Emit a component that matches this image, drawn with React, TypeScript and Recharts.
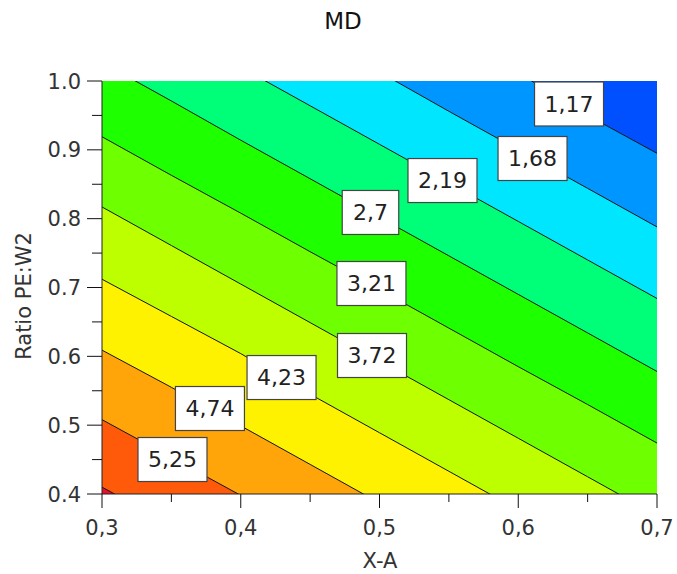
import { ComposedChart, Area, Line, Scatter, XAxis, YAxis } from "recharts";

// grid of X-A values where each contour line was read
const X_GRID = [0.3, 0.35, 0.4, 0.45, 0.5, 0.55, 0.6, 0.65, 0.7];

// contour lines: Ratio PE:W2 value along X_GRID for each MD level
const C_117 = [1.349, 1.293, 1.237, 1.18, 1.124, 1.068, 1.012, 0.95, 0.895];
const C_168 = [1.237, 1.181, 1.125, 1.069, 1.013, 0.956, 0.9, 0.844, 0.788];
const C_219 = [1.132, 1.076, 1.02, 0.964, 0.908, 0.852, 0.796, 0.74, 0.684];
const C_270 = [1.027, 0.971, 0.914, 0.858, 0.802, 0.746, 0.69, 0.634, 0.578];
const C_321 = [0.919, 0.863, 0.808, 0.752, 0.697, 0.641, 0.585, 0.53, 0.474];
const C_372 = [0.817, 0.761, 0.705, 0.649, 0.593, 0.537, 0.481, 0.425, 0.369];
const C_423 = [0.712, 0.658, 0.604, 0.545, 0.489, 0.433, 0.377, 0.321, 0.265];
const C_474 = [0.609, 0.555, 0.499, 0.443, 0.387, 0.331, 0.275, 0.219, 0.163];
const C_525 = [0.508, 0.453, 0.398, 0.343, 0.288, 0.233, 0.178, 0.123, 0.068];
const C_576 = [0.41, 0.355, 0.3, 0.245, 0.19, 0.135, 0.08, 0.025, -0.03];

const LEVELS = [1.17, 1.68, 2.19, 2.7, 3.21, 3.72, 4.23, 4.74, 5.25, 5.76];
const CONTOURS = [C_117, C_168, C_219, C_270, C_321, C_372, C_423, C_474, C_525, C_576];

// fill for each band, from below 1.17 up to above 5.76
const BAND_COLORS = [
  "#0050ff",
  "#0096ff",
  "#00e6ff",
  "#00ff78",
  "#1eff00",
  "#6eff00",
  "#beff00",
  "#fff200",
  "#ffa50a",
  "#ff5a0a",
  "#e8102a",
];

// contour label positions (data coords), one per labelled level
const LABEL_LEVELS = [1.17, 1.68, 2.19, 2.7, 3.21, 3.72, 4.23, 4.74, 5.25];
const LABEL_X = [0.6366, 0.6103, 0.5454, 0.4935, 0.4942, 0.4946, 0.4294, 0.3778, 0.3508];
const LABEL_Y = [0.9666, 0.8874, 0.8554, 0.809, 0.7058, 0.6012, 0.5692, 0.5242, 0.4501];

const X_TICKS = [0.3, 0.35, 0.4, 0.45, 0.5, 0.55, 0.6, 0.65, 0.7];
const Y_TICKS = [0.4, 0.45, 0.5, 0.55, 0.6, 0.65, 0.7, 0.75, 0.8, 0.85, 0.9, 0.95, 1.0];

const W = 677;
const H = 574;
const PLOT_LEFT = 102;
const PLOT_TOP = 81;
const PLOT_RIGHT = 657;
const PLOT_BOTTOM = 494;
const FONT = "'DejaVu Sans', sans-serif";

const rows = X_GRID.map((x, i) => {
  const r: any = { x };
  CONTOURS.forEach((c, k) => {
    r["l" + k] = c[i];
  });
  return r;
});

const labels = LABEL_LEVELS.map((lv, i) => ({
  x: LABEL_X[i],
  y: LABEL_Y[i],
  text: String(lv).replace(".", ","),
}));

const isMajor = (v: number) => Math.abs(Math.round(v * 10) - v * 10) < 1e-6;

const XTick = (props: any) => {
  const { x, payload } = props;
  const v = payload.value;
  const major = isMajor(v);
  return (
    <g>
      <line x1={x} x2={x} y1={PLOT_BOTTOM} y2={PLOT_BOTTOM + (major ? 14 : 8)} stroke="#111" />
      {major && (
        <text x={x} y={535} textAnchor="middle" fontFamily={FONT} fontSize={21} fill="#333">
          {v.toFixed(1).replace(".", ",")}
        </text>
      )}
    </g>
  );
};

const YTick = (props: any) => {
  const { y, payload } = props;
  const v = payload.value;
  const major = isMajor(v);
  return (
    <g>
      <line x1={PLOT_LEFT - (major ? 15 : 10)} x2={PLOT_LEFT} y1={y} y2={y} stroke="#111" />
      {major && (
        <text x={81} y={y} dy="0.36em" textAnchor="end" fontFamily={FONT} fontSize={21} fill="#333">
          {v.toFixed(1)}
        </text>
      )}
    </g>
  );
};

const LabelBox = (props: any) => {
  const { cx, cy, payload } = props;
  if (cx == null || cy == null) return null;
  const w = payload.text.length * 12.5 + 19;
  const h = 44;
  return (
    <g>
      <rect x={cx - w / 2} y={cy - h / 2} width={w} height={h} fill="#fff" stroke="#444" strokeWidth={1.2} />
      <text x={cx} y={cy} dy="0.36em" textAnchor="middle" fontFamily={FONT} fontSize={22} fill="#222">
        {payload.text}
      </text>
    </g>
  );
};

export default function App() {
  const bands = BAND_COLORS.map((color, b) => {
    const key = (d: any) => {
      if (b === 0) return [d.l0, 2];
      if (b === BAND_COLORS.length - 1) return [-1, d["l" + (b - 1)]];
      return [d["l" + b], d["l" + (b - 1)]];
    };
    return (
      <Area
        key={"band" + b}
        dataKey={key}
        type="linear"
        fill={color}
        fillOpacity={1}
        stroke="none"
        isAnimationActive={false}
      />
    );
  });

  return (
    <div style={{ position: "absolute", left: 0, top: 0, width: W, height: H, background: "#fff" }}>
      <ComposedChart
        width={W}
        height={H}
        data={rows}
        margin={{ top: PLOT_TOP, right: W - PLOT_RIGHT, left: PLOT_LEFT - 60, bottom: H - PLOT_BOTTOM - 60 }}
      >
        <XAxis
          xAxisId={0}
          dataKey="x"
          type="number"
          domain={[0.3, 0.7]}
          ticks={X_TICKS}
          allowDataOverflow
          height={60}
          tickLine={false}
          axisLine={{ stroke: "#222" }}
          tick={<XTick />}
          interval={0}
        />
        <XAxis xAxisId="top" orientation="top" dataKey="x" type="number" domain={[0.3, 0.7]} height={0} tick={false} tickLine={false} axisLine={{ stroke: "#222" }} />
        <YAxis
          yAxisId={0}
          type="number"
          domain={[0.4, 1.0]}
          ticks={Y_TICKS}
          allowDataOverflow
          width={60}
          tickLine={false}
          axisLine={{ stroke: "#222" }}
          tick={<YTick />}
          interval={0}
        />
        <YAxis yAxisId="right" orientation="right" type="number" domain={[0.4, 1.0]} width={0} tick={false} tickLine={false} axisLine={{ stroke: "#222" }} />
        {bands}
        {LEVELS.map((lv, k) => (
          <Line
            key={"line" + lv}
            dataKey={"l" + k}
            type="linear"
            stroke="#111"
            strokeWidth={1}
            dot={false}
            activeDot={false}
            isAnimationActive={false}
          />
        ))}
        <Scatter data={labels} dataKey="y" shape={<LabelBox />} isAnimationActive={false} />
      </ComposedChart>
      <svg width={W} height={H} style={{ position: "absolute", left: 0, top: 0, pointerEvents: "none" }}>
        <text x={343} y={29} textAnchor="middle" fontFamily={FONT} fontSize={23} fill="#111">
          MD
        </text>
        <text x={380} y={568} textAnchor="middle" fontFamily={FONT} fontSize={21} fill="#333">
          X-A
        </text>
        <text
          x={0}
          y={0}
          transform="translate(31 296) rotate(-90)"
          textAnchor="middle"
          fontFamily={FONT}
          fontSize={21}
          fill="#333"
        >
          Ratio PE:W2
        </text>
      </svg>
    </div>
  );
}
